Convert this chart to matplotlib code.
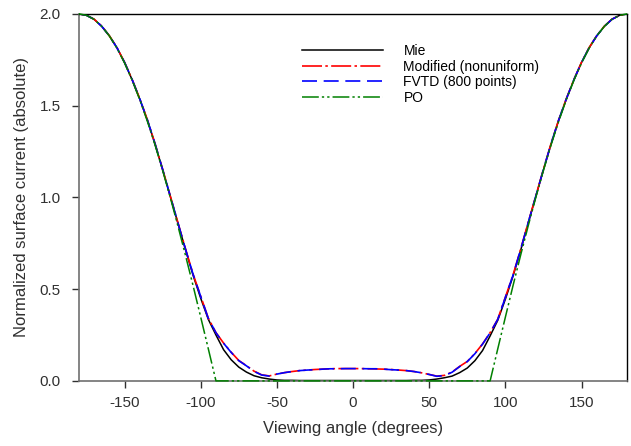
import numpy as np
import matplotlib
matplotlib.use('Agg')
import matplotlib.pyplot as plt

plt.rcParams['font.family'] = ['Liberation Sans', 'DejaVu Sans']
plt.rcParams['axes.unicode_minus'] = False

# viewing angle grid (degrees)
angles = np.arange(-180, 181, 5)

# values, -180 .. 180 step 5
mie = [2.000, 1.992, 1.970, 1.932, 1.880, 1.815, 1.735, 1.640, 1.535, 1.420,
       1.290, 1.150, 1.005, 0.860, 0.715, 0.575, 0.450, 0.335, 0.250, 0.170,
       0.115, 0.075, 0.048, 0.028, 0.017, 0.010, 0.005, 0.003, 0.003, 0.002,
       0.002, 0.002, 0.002, 0.002, 0.002, 0.002, 0.002,
       0.002, 0.002, 0.002, 0.002, 0.002, 0.002, 0.002, 0.003, 0.003, 0.005,
       0.010, 0.017, 0.026, 0.045, 0.070, 0.110, 0.165, 0.245, 0.330, 0.445,
       0.570, 0.710, 0.860, 1.005, 1.150, 1.290, 1.420, 1.535, 1.640, 1.735,
       1.815, 1.880, 1.932, 1.970, 1.992, 2.000]

fvtd = [2.000, 1.992, 1.970, 1.932, 1.880, 1.815, 1.735, 1.641, 1.536, 1.421,
        1.292, 1.152, 1.007, 0.862, 0.718, 0.580, 0.460, 0.340, 0.262, 0.205,
        0.155, 0.110, 0.082, 0.052, 0.032, 0.026, 0.037, 0.045, 0.051, 0.056,
        0.059, 0.061, 0.064, 0.066, 0.066, 0.067, 0.067,
        0.067, 0.066, 0.066, 0.064, 0.061, 0.059, 0.056, 0.051, 0.044, 0.035,
        0.025, 0.029, 0.047, 0.078, 0.105, 0.148, 0.200, 0.262, 0.335, 0.455,
        0.575, 0.715, 0.862, 1.007, 1.152, 1.292, 1.421, 1.536, 1.641, 1.735,
        1.815, 1.880, 1.932, 1.970, 1.992, 2.000]

modified = [2.000, 1.992, 1.971, 1.933, 1.881, 1.816, 1.736, 1.642, 1.537, 1.422,
            1.293, 1.153, 1.008, 0.863, 0.719, 0.581, 0.461, 0.341, 0.263, 0.206,
            0.156, 0.111, 0.083, 0.053, 0.033, 0.027, 0.037, 0.045, 0.051, 0.056,
            0.059, 0.062, 0.064, 0.066, 0.067, 0.067, 0.067,
            0.067, 0.066, 0.065, 0.064, 0.062, 0.059, 0.056, 0.051, 0.044, 0.035,
            0.026, 0.030, 0.048, 0.079, 0.106, 0.149, 0.201, 0.263, 0.336, 0.456,
            0.576, 0.716, 0.863, 1.008, 1.153, 1.293, 1.422, 1.537, 1.642, 1.736,
            1.816, 1.881, 1.933, 1.971, 1.992, 2.000]

po = [2.000, 1.992, 1.970, 1.932, 1.880, 1.813, 1.732, 1.638, 1.532, 1.414,
      1.286, 1.147, 1.000, 0.845, 0.684, 0.518, 0.347, 0.174, 0.000, 0.000,
      0.000, 0.000, 0.000, 0.000, 0.000, 0.000, 0.000, 0.000, 0.000, 0.000,
      0.000, 0.000, 0.000, 0.000, 0.000, 0.000, 0.000,
      0.000, 0.000, 0.000, 0.000, 0.000, 0.000, 0.000, 0.000, 0.000, 0.000,
      0.000, 0.000, 0.000, 0.000, 0.000, 0.000, 0.000, 0.000, 0.174, 0.347,
      0.518, 0.684, 0.845, 1.000, 1.147, 1.286, 1.414, 1.532, 1.638, 1.732,
      1.813, 1.880, 1.932, 1.970, 1.992, 2.000]

fig = plt.figure(figsize=(6.31, 4.46), dpi=100)
ax = fig.add_axes([0.125, 0.146, 0.869, 0.823])

ax.plot(angles, mie, color='black', lw=1.1, label='Mie')
ax.plot(angles, modified, color='red', lw=1.2, dashes=(12, 2, 1.5, 2),
        label='Modified (nonuniform)')
ax.plot(angles, fvtd, color='blue', lw=1.2, dashes=(9, 4),
        label='FVTD (800 points)')
ax.plot(angles, po, color='green', lw=1.1, dashes=(11, 2, 1.5, 2, 1.5, 2),
        label='PO', zorder=3, clip_on=False)

ax.set_xlim(-180, 180)
ax.set_ylim(0, 2.0)
ax.set_xticks([-150, -100, -50, 0, 50, 100, 150])
ax.set_yticks([0.0, 0.5, 1.0, 1.5, 2.0])
ax.set_yticklabels(['0.0', '0.5', '1.0', '1.5', '2.0'])
ax.tick_params(axis='both', direction='out', length=5, width=1,
               labelsize=11, colors='#303030')
ax.tick_params(axis='x', pad=6)
ax.tick_params(axis='y', pad=8)

for side in ['left', 'bottom']:
    ax.spines[side].set_color('#707070')
    ax.spines[side].set_linewidth(1.2)
for side in ['top', 'right']:
    ax.spines[side].set_color('black')
    ax.spines[side].set_linewidth(1.0)

ax.set_xlabel('Viewing angle (degrees)', fontsize=12, color='#303030', labelpad=8)
ax.set_ylabel('Normalized surface current (absolute)', fontsize=12,
              color='#303030', labelpad=8)

ax.legend(loc='upper left', bbox_to_anchor=(302 / 631, 1 - 44 / 446),
          bbox_transform=fig.transFigure, frameon=False, fontsize=10,
          handlelength=5.8, handletextpad=1.5, labelspacing=0.12,
          borderpad=0, borderaxespad=0)

fig.savefig('out.png', dpi=100, facecolor='white')
